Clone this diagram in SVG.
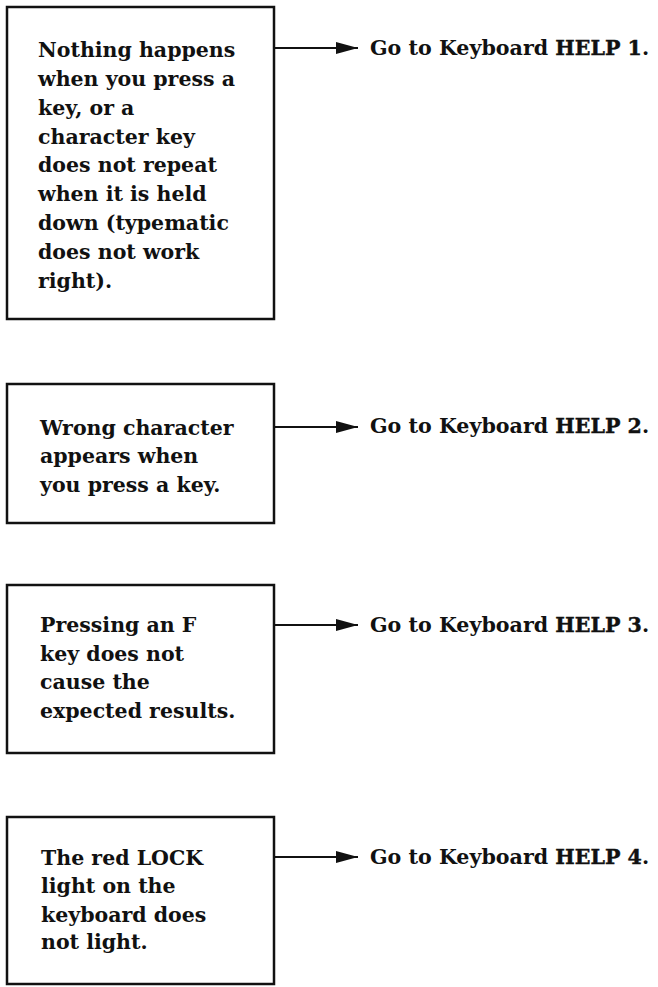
<svg xmlns="http://www.w3.org/2000/svg" width="658" height="987" viewBox="0 0 658 987">
<style>
.box{fill:none;stroke:#111;stroke-width:2.5}
.t{font-family:"DejaVu Serif","Liberation Serif",serif;font-weight:bold;font-size:20.5px;fill:#111}
.g{font-family:"DejaVu Serif","Liberation Serif",serif;font-weight:bold;font-size:20.6px;fill:#111}
.h{stroke:#111;stroke-width:0.4}
.c{stroke:#111;stroke-width:2;fill:none}
</style>
<defs>
<marker id="ah" viewBox="0 0 22 12" refX="22" refY="6" markerWidth="22" markerHeight="12" markerUnits="userSpaceOnUse" orient="auto">
<path d="M0,0 L22,6 L0,12 Z" fill="#111"/>
</marker>
</defs>
<rect width="658" height="987" fill="#fff"/>
<g id="connectors">
<line class="c" x1="274" y1="48" x2="358" y2="48" marker-end="url(#ah)"/>
<line class="c" x1="274" y1="427" x2="358" y2="427" marker-end="url(#ah)"/>
<line class="c" x1="274" y1="625" x2="358" y2="625" marker-end="url(#ah)"/>
<line class="c" x1="274" y1="857" x2="358" y2="857" marker-end="url(#ah)"/>
</g>
<g id="node1">
<rect class="box" x="7" y="7" width="267" height="312"/>
<text class="t" x="38" y="57">Nothing happens</text>
<text class="t" x="38" y="86">when you press a</text>
<text class="t" x="38" y="115">key, or a</text>
<text class="t" x="38" y="144">character key</text>
<text class="t" x="38" y="172">does not repeat</text>
<text class="t" x="38" y="201">when it is held</text>
<text class="t" x="38" y="230">down (typematic</text>
<text class="t" x="38" y="259">does not work</text>
<text class="t" x="38" y="288">right).</text>
</g>
<g id="target1"><text class="g" x="370" y="55">Go to Keyboard <tspan class="h">HELP 1</tspan>.</text></g>
<g id="node2">
<rect class="box" x="7" y="384" width="267" height="139"/>
<text class="t" x="40" y="435">Wrong character</text>
<text class="t" x="40" y="463">appears when</text>
<text class="t" x="40" y="492">you press a key.</text>
</g>
<g id="target2"><text class="g" x="370" y="433">Go to Keyboard <tspan class="h">HELP 2</tspan>.</text></g>
<g id="node3">
<rect class="box" x="7" y="585" width="267" height="168"/>
<text class="t" x="40" y="632">Pressing an F</text>
<text class="t" x="40" y="661">key does not</text>
<text class="t" x="40" y="689">cause the</text>
<text class="t" x="40" y="718">expected results.</text>
</g>
<g id="target3"><text class="g" x="370" y="632">Go to Keyboard <tspan class="h">HELP 3</tspan>.</text></g>
<g id="node4">
<rect class="box" x="7" y="817" width="267" height="167"/>
<text class="t" x="41" y="865">The red LOCK</text>
<text class="t" x="41" y="893">light on the</text>
<text class="t" x="41" y="922">keyboard does</text>
<text class="t" x="41" y="949">not light.</text>
</g>
<g id="target4"><text class="g" x="370" y="864">Go to Keyboard <tspan class="h">HELP 4</tspan>.</text></g>
</svg>
